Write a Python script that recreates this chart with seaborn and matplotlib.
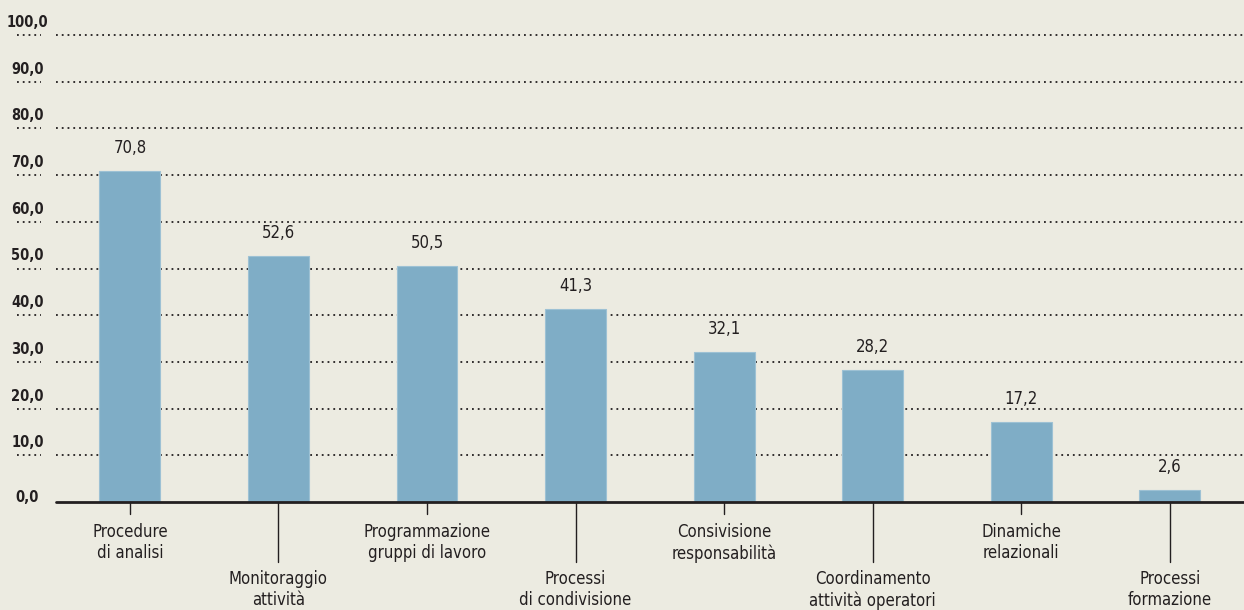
import matplotlib
matplotlib.use("Agg")
import matplotlib.pyplot as plt
import seaborn as sns
import pandas as pd

# --- dati ---
categorie = [
    "Procedure\ndi analisi",
    "Monitoraggio\nattività",
    "Programmazione\ngruppi di lavoro",
    "Processi\ndi condivisione",
    "Consivisione\nresponsabilità",
    "Coordinamento\nattività operatori",
    "Dinamiche\nrelazionali",
    "Processi\nformazione",
]
valori = [70.8, 52.6, 50.5, 41.3, 32.1, 28.2, 17.2, 2.6]
tick_y = [0, 10, 20, 30, 40, 50, 60, 70, 80, 90, 100]

sfondo = "#ECEBE1"
blu = "#7FADC6"
scuro = "#231F20"

sns.set_theme(style="white")
plt.rcParams["font.family"] = ["DejaVu Sans"]
plt.rcParams["font.stretch"] = "condensed"

df = pd.DataFrame({"cat": categorie, "val": valori})

fig = plt.figure(figsize=(12.44, 6.10), dpi=100, facecolor=sfondo)
ax = fig.add_axes([55.6 / 1244, 1 - 502 / 610, 1188.4 / 1244, (502 - 35) / 610])
ax.set_facecolor(sfondo)

sns.barplot(data=df, x="cat", y="val", color=blu, width=0.41, saturation=1,
            edgecolor="#9DC1D4", linewidth=0.8, ax=ax, zorder=3)

ax.set_xlim(-0.5, 7.5)
ax.set_ylim(0, 100)
for s in ax.spines.values():
    s.set_visible(False)

# griglia punteggiata
ax.set_yticks(tick_y)
ax.set_yticklabels([])
ax.tick_params(axis="y", length=0)
for v in tick_y[1:]:
    ax.axhline(v, color=scuro, lw=1.3, ls=(0, (1, 2.2)), zorder=1, clip_on=False)
ax.axhline(0, color=scuro, lw=2, zorder=4, clip_on=False)

# etichette asse y
ytr = ax.get_yaxis_transform()
for v in tick_y:
    lab = f"{v:.1f}".replace(".", ",")
    off = 3 if v == 0 else 9
    ax.annotate(lab, xy=(-0.0236, v), xycoords=ytr, xytext=(0, off),
                textcoords="offset points", ha="center", va="center",
                fontsize=10.5, fontweight="bold", color=scuro, annotation_clip=False)
    if v > 0:
        ax.plot([-0.0327, -0.0125], [v, v], transform=ytr, clip_on=False,
                color=scuro, lw=1.3, ls=(0, (1, 2.2)))

# valori sopra le barre
ax.bar_label(ax.containers[0], labels=[f"{v:.1f}".replace(".", ",") for v in valori],
             padding=10, fontsize=12, color=scuro)

# etichette categorie alternate
ax.set_xticks(range(len(categorie)))
ax.set_xticklabels(categorie, fontsize=12, color=scuro, linespacing=1.22)
ax.tick_params(axis="x", length=0)
ax.set_xlabel("")
ax.set_ylabel("")
xtr = ax.get_xaxis_transform()
for i, t in enumerate(ax.xaxis.get_major_ticks()):
    lungo = i % 2 == 1
    t.set_pad(49 if lungo else 15)
    basso = -(60 if lungo else 12) / 467
    ax.plot([i, i], [0, basso], transform=xtr, clip_on=False, color=scuro, lw=1)

fig.savefig("out.png", dpi=100, facecolor=sfondo)
